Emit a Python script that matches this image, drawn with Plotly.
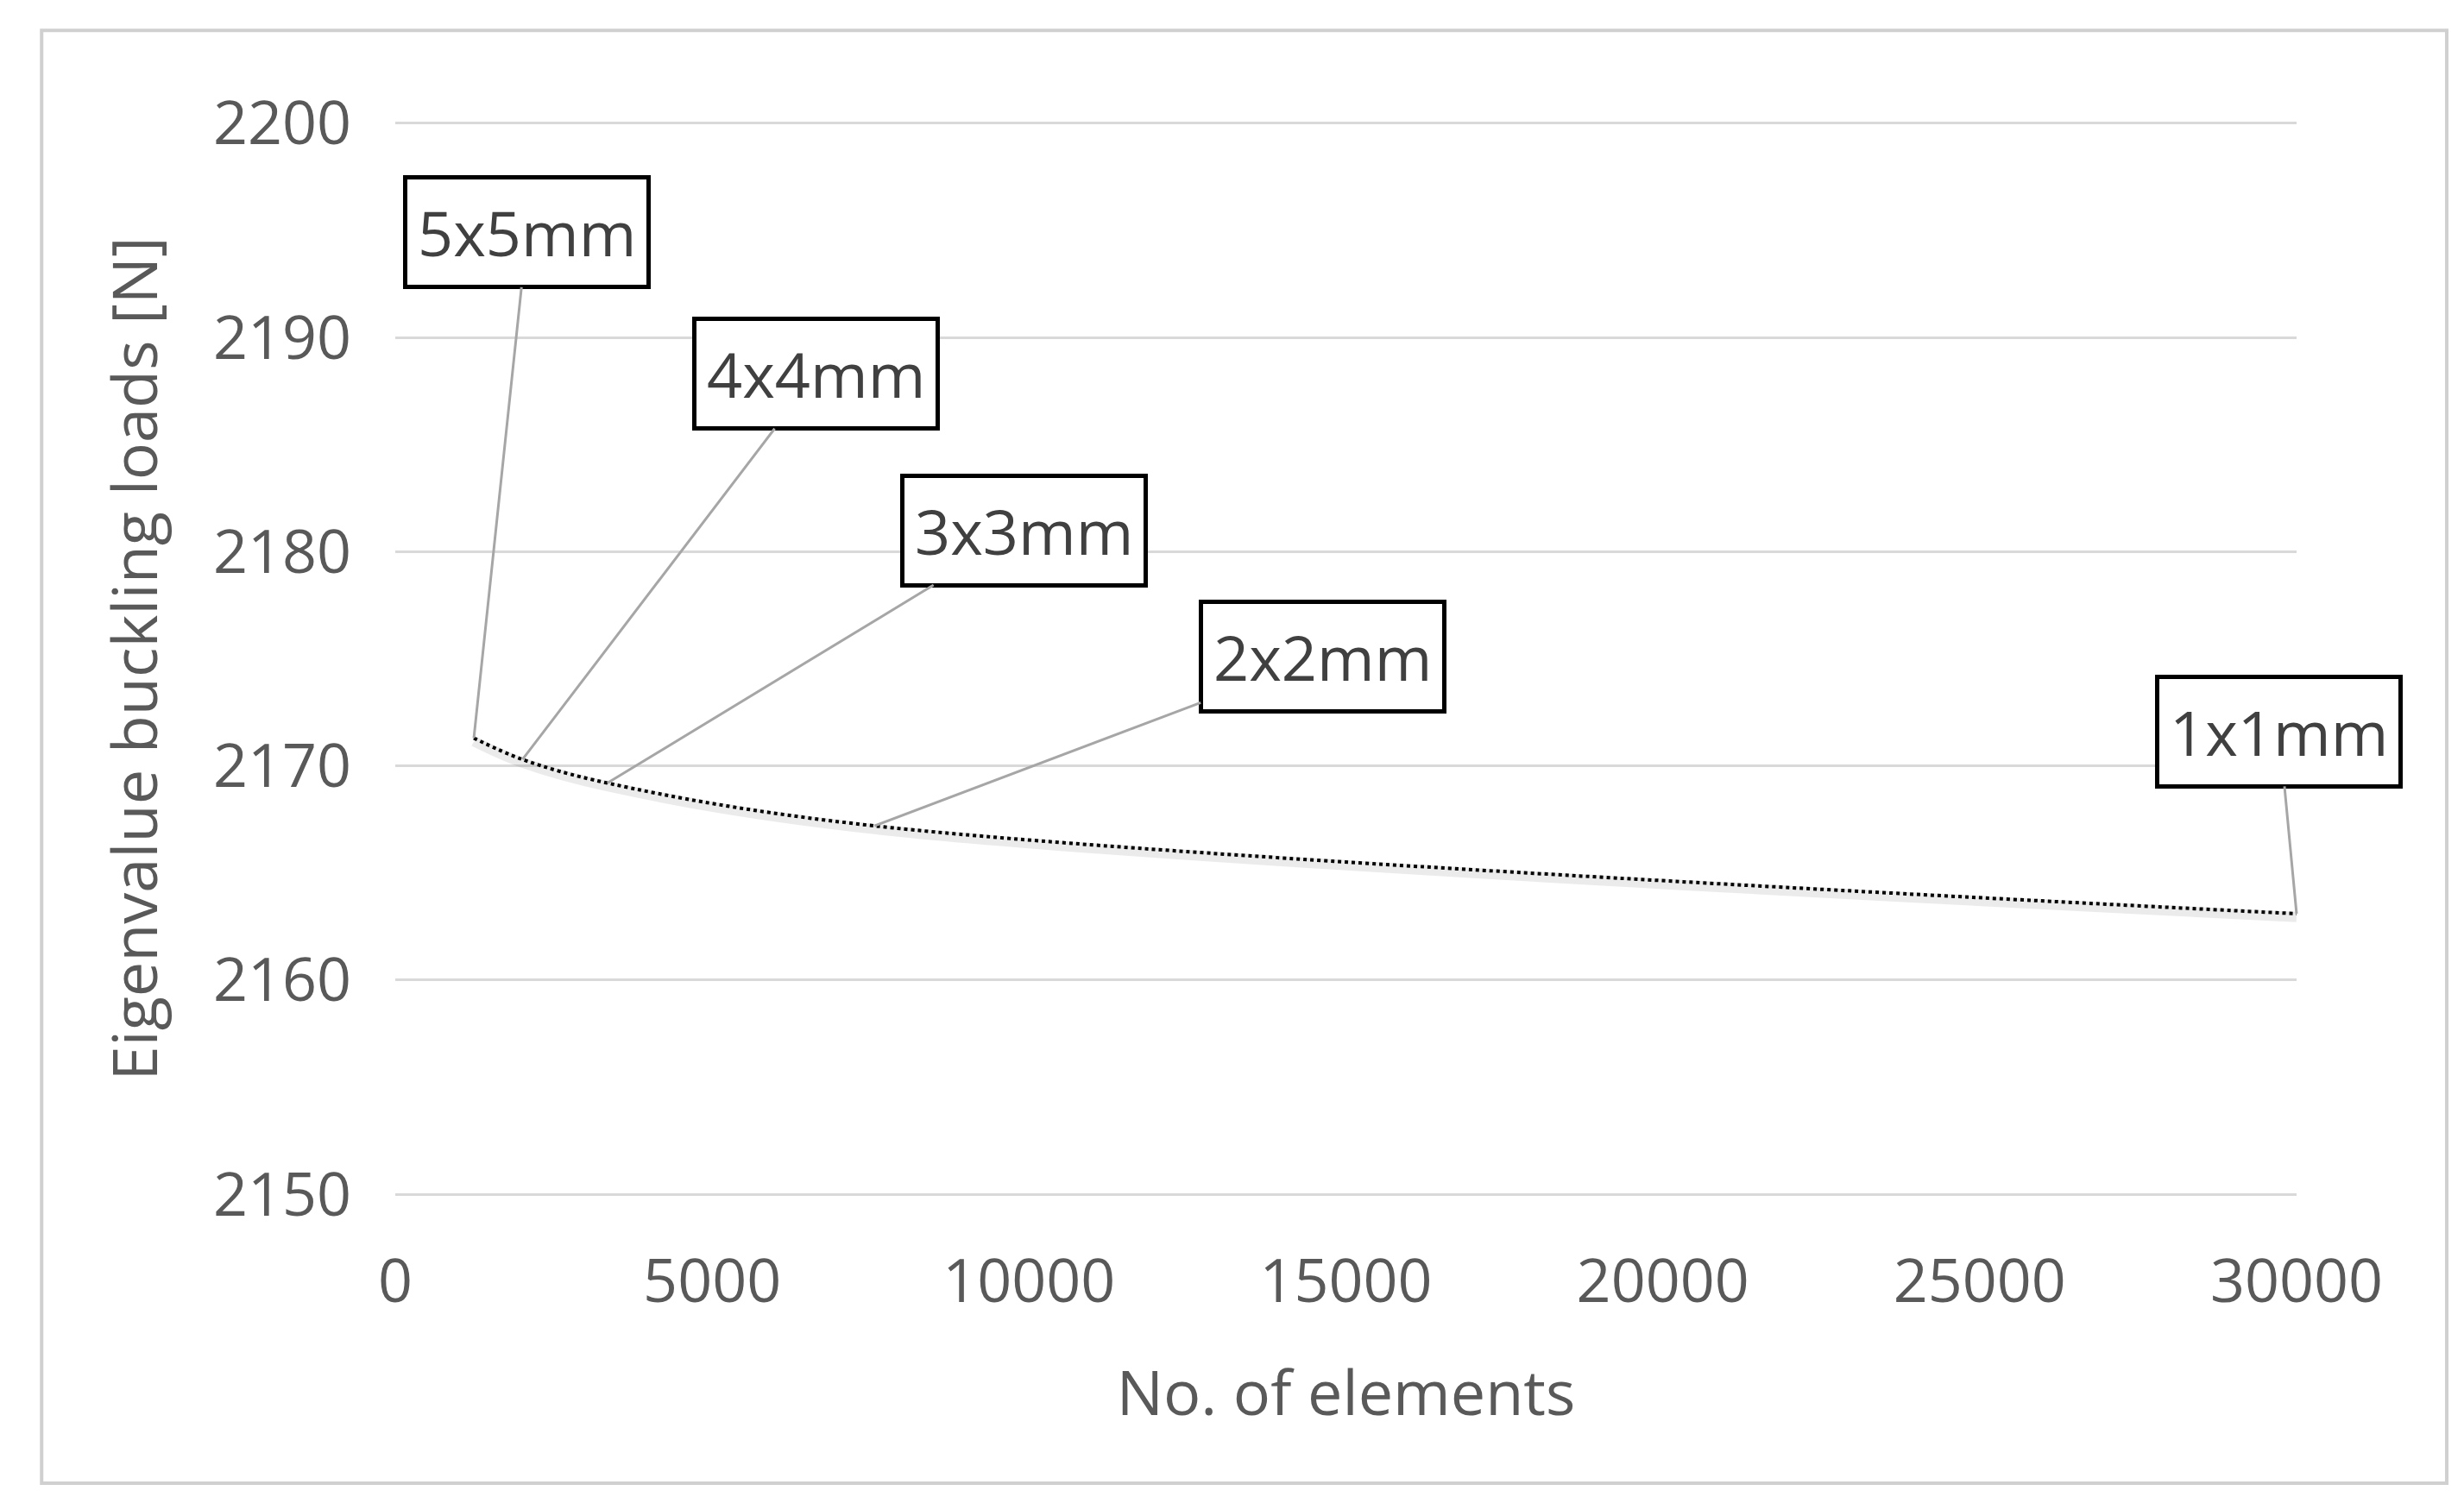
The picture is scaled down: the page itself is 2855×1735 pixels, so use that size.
import plotly.graph_objects as go

elements = [1240, 2008, 3347, 7562, 30000]
loads = [2171.3, 2170.3, 2169.2, 2167.2, 2163.1]
labels = ["5x5mm", "4x4mm", "3x3mm", "2x2mm", "1x1mm"]
label_x = [2083, 6645, 9917, 14628, 29727]
label_y = [2194.9, 2188.3, 2181.0, 2175.1, 2171.6]

grey = "#595959"
font = "Open Sans"

fig = go.Figure()
fig.add_trace(go.Scatter(x=elements, y=[v - 0.15 for v in loads], mode="lines",
                         line=dict(color="rgba(0,0,0,0.08)", width=12, shape="spline"),
                         hoverinfo="skip", showlegend=False))
fig.add_trace(go.Scatter(x=elements, y=loads, mode="lines",
                         line=dict(color="black", width=4, dash="dot", shape="spline"),
                         showlegend=False))

for x, y, t, lx, ly in zip(elements, loads, labels, label_x, label_y):
    fig.add_annotation(x=x, y=y, ax=lx, ay=ly, axref="x", ayref="y", text=t,
                       showarrow=True, arrowhead=0, arrowwidth=3, arrowcolor="#a6a6a6",
                       font=dict(size=72, color="#404040", family=font),
                       bordercolor="black", borderwidth=5, borderpad=12, bgcolor="white")

fig.add_shape(type="rect", xref="paper", yref="paper", x0=-0.186, x1=1.079, y0=-0.265, y1=1.083,
              line=dict(color="#d0d0d0", width=4), layer="below")

fig.update_layout(
    width=2855, height=1735, plot_bgcolor="white", paper_bgcolor="white",
    margin=dict(l=450, r=202, t=131, b=355),
    font=dict(family=font, color=grey),
    xaxis=dict(range=[0, 30000], tickvals=[0, 5000, 10000, 15000, 20000, 25000, 30000],
               tickformat="d",
               showgrid=False, showline=False, zeroline=False, ticks="",
               tickfont=dict(size=70, color=grey), ticklabelstandoff=50,
               title=dict(text="No. of elements", font=dict(size=72, color=grey), standoff=60)),
    yaxis=dict(range=[2149.85, 2200.15], tickvals=[2150, 2160, 2170, 2180, 2190, 2200],
               showgrid=True, gridcolor="#d9d9d9", gridwidth=3, zeroline=False, showline=False,
               ticks="", tickfont=dict(size=70, color=grey), ticklabelstandoff=50,
               title=dict(text="Eigenvalue buckling loads [N]", font=dict(size=72, color=grey), standoff=40)),
)
fig.write_html("out.html")
